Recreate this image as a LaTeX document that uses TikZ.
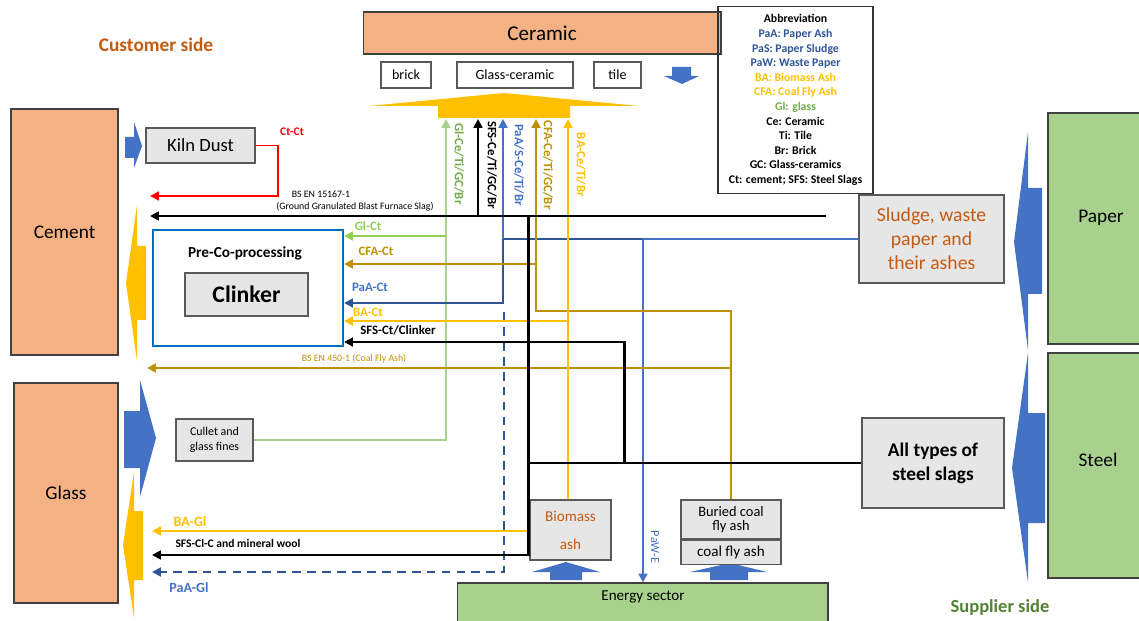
\documentclass[tikz,border=0pt]{standalone}
\usepackage{fontspec}
\setmainfont{Carlito}
\usetikzlibrary{positioning,arrows.meta}

\definecolor{SectorOrange}{HTML}{F4B183}
\definecolor{SectorGreen}{HTML}{A9D18E}
\definecolor{BoxGray}{HTML}{E7E6E6}
\definecolor{FlowBlue}{HTML}{4472C4}
\definecolor{DeepBlue}{HTML}{2F5597}
\definecolor{AshGold}{HTML}{FFC000}
\definecolor{FlyGold}{HTML}{BF9000}
\definecolor{GlassGreen}{HTML}{70AD47}
\definecolor{CulletGreen}{HTML}{A9D18E}
\definecolor{GlCtGreen}{HTML}{92D050}
\definecolor{RustOrange}{HTML}{C55A11}
\definecolor{SupplierGreen}{HTML}{548235}
\definecolor{PreBlue}{HTML}{0070C0}

\tikzset{
  flowline/.style={line width=1.6pt},
  flow/.style={flowline, -{Triangle[length=5pt,width=5pt]}},
  slagflow/.style={flow, black, line width=1.7pt},
  sectorbox/.style={draw=black!75, line width=0.6pt, inner sep=0pt, font=\fontsize{11}{13}\selectfont},
  graybox/.style={draw=black!65, fill=BoxGray, line width=0.8pt, inner sep=0pt, align=center},
  itembox/.style={draw=black!65, fill=white, line width=0.6pt, inner sep=0pt, font=\fontsize{8}{9}\selectfont},
  flowlabel/.style={inner sep=0pt, font=\bfseries\fontsize{7.3}{8}\selectfont},
  normlabel/.style={inner sep=0pt, font=\fontsize{5.6}{6.5}\selectfont},
  sidelabel/.style={inner sep=0pt, font=\bfseries\fontsize{11}{13}\selectfont}
}

\begin{document}
\begin{tikzpicture}[x=0.02cm, y=-0.02cm]
\useasboundingbox (0,0) rectangle (1139,621);

% SIDES
\node[sidelabel, text=RustOrange] (customer) at (156,45) {Customer side};
\node[sidelabel, text=SupplierGreen, font=\bfseries\fontsize{10.5}{12}\selectfont] (supplier) at (1000,607) {Supplier side};

% SECTORS
\node[sectorbox, fill=SectorOrange, minimum width=7.16cm, minimum height=0.84cm, font=\fontsize{12}{14}\selectfont] (ceramic) at (542,33) {Ceramic};
\node[sectorbox, fill=SectorOrange, minimum width=2.14cm, minimum height=4.92cm] (cement) at (64.5,232) {Cement};
\node[sectorbox, fill=SectorOrange, minimum width=2.08cm, minimum height=4.40cm] (glass) at (66,493) {Glass};
\node[sectorbox, fill=SectorGreen, minimum width=2.12cm, minimum height=4.62cm] (paper) at (1101,228.5) {};
\node[sectorbox, fill=SectorGreen, minimum width=2.12cm, minimum height=4.50cm] (steel) at (1101,465.5) {};
\node[inner sep=0pt, font=\fontsize{11}{13}\selectfont] (papertext) at (1101,218) {Paper};
\node[inner sep=0pt, font=\fontsize{11}{13}\selectfont] (steeltext) at (1098,460) {Steel};
\node[sectorbox, fill=SectorGreen, minimum width=7.42cm, minimum height=1.14cm] (energy) at (642.5,611.5) {};
\node[inner sep=0pt, font=\fontsize{8.6}{10}\selectfont] (energytext) at (643,597) {Energy sector};

% CERAMIC PRODUCTS
\node[itembox, minimum width=1.00cm, minimum height=0.52cm] (brick) at (406,75) {brick};
\node[itembox, minimum width=2.32cm, minimum height=0.52cm] (glassceramic) at (515,75) {Glass-ceramic};
\node[itembox, minimum width=0.94cm, minimum height=0.52cm] (tile) at (617.5,75) {tile};

% ABBREVIATIONS
\node[draw=black!80, line width=0.6pt, minimum width=3.10cm, minimum height=3.74cm, inner sep=0pt,
      align=center, font=\bfseries\fontsize{6.7}{8.3}\selectfont] (abbrev) at (795.5,100) {%
  Abbreviation\\
  \textcolor{DeepBlue}{PaA: Paper Ash}\\
  \textcolor{DeepBlue}{PaS: Paper Sludge}\\
  \textcolor{DeepBlue}{PaW: Waste Paper}\\
  \textcolor{AshGold}{BA: Biomass Ash}\\
  \textcolor{AshGold}{CFA: Coal Fly Ash}\\
  \textcolor{GlassGreen}{Gl: glass}\\
  Ce: Ceramic\\
  Ti: Tile\\
  Br: Brick\\
  GC: Glass-ceramics\\
  Ct: cement; SFS: Steel Slags};

% BLOCK ARROWS
\fill[AshGold] (438,118) -- (438,106) -- (369,106) -- (504,93) -- (639,106) -- (570,106) -- (570,118) -- cycle;
\fill[FlowBlue] (672,67) -- (691,67) -- (691,76) -- (699,76) -- (682,84) -- (664,76) -- (672,76) -- cycle;
\fill[FlowBlue] (125,137) -- (134,137) -- (134,122) -- (142,146) -- (134,168) -- (134,158) -- (125,158) -- cycle;
\fill[AshGold] (137,205) -- (137,246) -- (146,246) -- (146,320) -- (137,320) -- (137,361) -- (126,283) -- cycle;
\fill[FlowBlue] (124,411) -- (140,411) -- (140,380) -- (156,438) -- (140,497) -- (140,468) -- (124,468) -- cycle;
\fill[AshGold] (134,472) -- (134,511) -- (143,511) -- (143,580) -- (134,580) -- (134,618) -- (123,545) -- cycle;
\fill[FlowBlue] (1028,132) -- (1028,188) -- (1042,188) -- (1042,294) -- (1028,294) -- (1028,350) -- (1014,242) -- cycle;
\fill[FlowBlue] (1028,353) -- (1028,413) -- (1045,413) -- (1045,523) -- (1028,523) -- (1028,582) -- (1012,468) -- cycle;
\fill[FlowBlue] (550,580) -- (550,572) -- (532,572) -- (566,562) -- (600,572) -- (582,572) -- (582,580) -- cycle;
\fill[FlowBlue] (710,580) -- (710,572) -- (690,572) -- (730,563) -- (767,572) -- (748,572) -- (748,580) -- cycle;

% PROCESS BOXES
\node[graybox, minimum width=2.18cm, minimum height=0.70cm, font=\fontsize{10.6}{12}\selectfont] (kiln) at (200.5,145.5) {Kiln Dust};
\node[draw=PreBlue, line width=1.3pt, minimum width=3.80cm, minimum height=2.32cm, inner sep=0pt] (precobox) at (248,288) {};
\node[inner sep=0pt, font=\bfseries\fontsize{8.7}{10}\selectfont] (precotext) at (245,253) {Pre-Co-processing};
\node[graybox, minimum width=2.46cm, minimum height=0.86cm, font=\bfseries\fontsize{13.5}{15}\selectfont] (clinker) at (246.5,294.5) {Clinker};
\node[graybox, minimum width=1.54cm, minimum height=0.84cm, font=\fontsize{6.8}{8.6}\selectfont] (cullet) at (214.5,440) {Cullet and\\glass fines};
\node[graybox, minimum width=2.90cm, minimum height=1.76cm, text=RustOrange, font=\fontsize{11.2}{13.6}\selectfont] (sludge) at (931.5,239) {Sludge, waste\\paper and\\their ashes};
\node[graybox, minimum width=2.84cm, minimum height=1.80cm, font=\bfseries\fontsize{11}{13.6}\selectfont] (slags) at (933,463) {All types of\\steel slags};
\node[graybox, minimum width=1.62cm, minimum height=1.20cm, text=RustOrange, font=\fontsize{8.6}{16}\selectfont] (biomass) at (570.5,530) {Biomass\\ash};
\node[graybox, minimum width=2.00cm, minimum height=0.78cm, font=\fontsize{8.2}{8.3}\selectfont] (coalup) at (731,519.5) {Buried coal\\fly ash};
\node[graybox, minimum width=2.00cm, minimum height=0.48cm, font=\fontsize{8.6}{10}\selectfont, below=0pt of coalup] (coaldown) {coal fly ash};

% JUNCTIONS
\coordinate (GlUp) at (446,119);
\coordinate (SfsUp) at (478,119);
\coordinate (PaUp) at (503,119);
\coordinate (CfaUp) at (536,119);
\coordinate (BaUp) at (568,119);
\coordinate (GlBend) at (446,440);
\coordinate (GlCtFork) at (446,236);
\coordinate (KilnTurn) at (278,196);
\coordinate (CtCtEnd) at (150,196);
\coordinate (GgbsStart) at (826,216);
\coordinate (GgbsEnd) at (150,216);
\coordinate (SfsFork) at (478,216);
\coordinate (SlagTop) at (528,216);
\coordinate (SlagBottom) at (528,555);
\coordinate (SlagGlEnd) at (152,555);
\coordinate (ClinkerFoot) at (624,463);
\coordinate (ClinkerTurn) at (624,342);
\coordinate (PaFork) at (503,239);
\coordinate (PaWFork) at (643,239);
\coordinate (PaCtFork) at (503,303);
\coordinate (PaDashTop) at (504,312);
\coordinate (PaDashCorner) at (504,572);
\coordinate (PaGlEnd) at (152,572);
\coordinate (CfaCorner) at (536,311);
\coordinate (CfaCtFork) at (536,264);
\coordinate (FlyAshFork) at (731,368);
\coordinate (FlyAshEnd) at (147,368);
\coordinate (BaCtFork) at (568,321);
\coordinate (BaGlEnd) at (152,531);

% GLASS FLOWS
\draw[flow, CulletGreen] (cullet.east) -- (GlBend) -- (GlUp);
\draw[flow, GlCtGreen] (GlCtFork) -- (precobox.east |- GlCtFork);

% PAPER FLOWS
\draw[flowline, FlowBlue] (sludge.west) -- (PaWFork);
\draw[flowline, DeepBlue] (PaWFork) -- (PaFork);
\draw[flow, FlowBlue] (PaFork) -- (PaUp);
\draw[flow, DeepBlue] (PaFork) -- (PaCtFork) -- (precobox.east |- PaCtFork);
\draw[flow, DeepBlue, dash pattern=on 5pt off 3.5pt] (PaDashTop) -- (PaDashCorner) -- (PaGlEnd);
\draw[flow, FlowBlue, line width=1.2pt] (PaWFork) -- (PaWFork |- energy.north);

% COAL FLY ASH FLOWS
\draw[flow, FlyGold] (coalup.north) |- (CfaCorner) -- (CfaUp);
\draw[flow, FlyGold] (CfaCtFork) -- (precobox.east |- CfaCtFork);
\draw[flow, FlyGold] (FlyAshFork) -- (FlyAshEnd);

% BIOMASS ASH FLOWS
\draw[flow, AshGold] (BaUp |- biomass.north) -- (BaUp);
\draw[flow, AshGold] (BaCtFork) -- (precobox.east |- BaCtFork);
\draw[flow, AshGold] (biomass.west |- BaGlEnd) -- (BaGlEnd);

% STEEL SLAG FLOWS
\draw[slagflow] (GgbsStart) -- (GgbsEnd);
\draw[slagflow] (SfsFork) -- (SfsUp);
\draw[flowline, black, line width=1.7pt] (slags.west) -- (slags.west -| SlagTop);
\draw[slagflow] (SlagTop) -- (SlagBottom) -- (SlagGlEnd);
\draw[slagflow] (ClinkerFoot) -- (ClinkerTurn) -- (precobox.east |- ClinkerTurn);

% KILN DUST FLOW
\draw[flow, red, line width=1.1pt] (kiln.east) -| (KilnTurn) -- (CtCtEnd);

% FLOW LABELS
\node[flowlabel, text=red, font=\bfseries\fontsize{6.6}{8}\selectfont] (ctct) at (292,132) {Ct-Ct};
\node[normlabel] (ggbs) at (321,194) {BS EN 15167-1};
\node[normlabel] (ggbsname) at (355,207) {(Ground Granulated Blast Furnace Slag)};
\node[flowlabel, text=GlCtGreen] (glct) at (368,226) {Gl-Ct};
\node[flowlabel, text=FlyGold] (cfact) at (376,251) {CFA-Ct};
\node[flowlabel, text=FlowBlue] (paact) at (370,287) {PaA-Ct};
\node[flowlabel, text=AshGold] (bact) at (368,312) {BA-Ct};
\node[flowlabel, text=black] (sfsct) at (398,330) {SFS-Ct/Clinker};
\node[normlabel, text=FlyGold] (flyash) at (354,359) {BS EN 450-1 (Coal Fly Ash)};
\node[flowlabel, text=AshGold, font=\bfseries\fontsize{8}{9}\selectfont] (bagl) at (190,522) {BA-Gl};
\node[flowlabel, font=\bfseries\fontsize{6.6}{8}\selectfont] (sfsgl) at (238,543) {SFS-Cl-C and mineral wool};
\node[flowlabel, text=FlowBlue, font=\bfseries\fontsize{8}{9}\selectfont] (paagl) at (189,588) {PaA-Gl};
\node[flowlabel, rotate=-90, text=GlassGreen] (glce) at (459,164) {Gl-Ce/Ti/GC/Br};
\node[flowlabel, rotate=-90] (sfsce) at (492,165) {SFS-Ce/Ti/GC/Br};
\node[flowlabel, rotate=-90, text=FlowBlue] (pace) at (519,165) {PaA/S-Ce/Ti/Br};
\node[flowlabel, rotate=-90, text=FlyGold] (cface) at (548,165) {CFA-Ce/Ti/GC/Br};
\node[flowlabel, rotate=-90, text=AshGold] (bace) at (581,165) {BA-Ce/Ti/Br};
\node[flowlabel, rotate=-90, text=FlowBlue, font=\fontsize{7}{8}\selectfont] (pawe) at (655,547) {PaW-E};
\end{tikzpicture}
\end{document}
